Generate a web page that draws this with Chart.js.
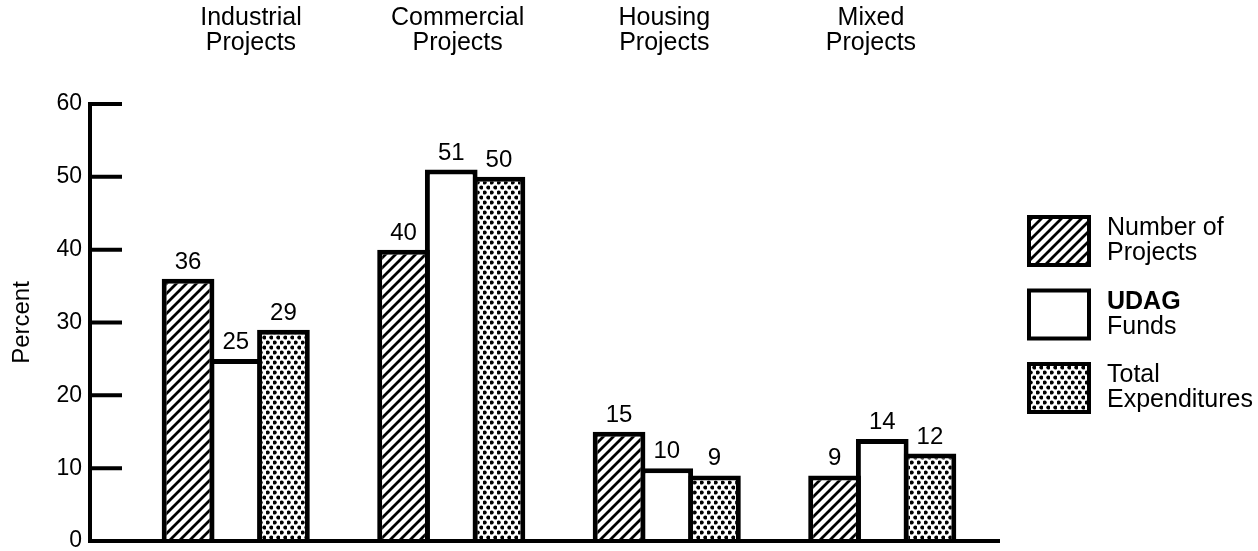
<!DOCTYPE html>
<html>
<head>
<meta charset="utf-8">
<script src="https://cdn.jsdelivr.net/npm/chart.js@4.4.1/dist/chart.umd.min.js"></script>
<style>
  html, body { margin: 0; padding: 0; background: #ffffff; }
  #wrap { width: 1258px; height: 551px; }
</style>
</head>
<body>
<div id="wrap"><canvas id="c" width="1258" height="551"></canvas></div>
<script>
// ---- data ----
const categories = [['Industrial', 'Projects'], ['Commercial', 'Projects'], ['Housing', 'Projects'], ['Mixed', 'Projects']];
const seriesNames = [['Number of', 'Projects'], ['UDAG', 'Funds'], ['Total', 'Expenditures']];
const numberOfProjects = [36, 40, 15, 9];
const udagFunds = [25, 51, 10, 14];
const totalExpenditures = [29, 50, 9, 12];
const yTicks = [0, 10, 20, 30, 40, 50, 60];

// ---- styles ----
const FONT = '"Liberation Sans", Arial, Helvetica, sans-serif';

function hatchPattern() {
  const s = 10;
  const c = document.createElement('canvas');
  c.width = s; c.height = s;
  const g = c.getContext('2d');
  g.fillStyle = '#fff'; g.fillRect(0, 0, s, s);
  g.strokeStyle = '#000'; g.lineWidth = 2.8; g.lineCap = 'square';
  g.beginPath();
  g.moveTo(0, s); g.lineTo(s, 0);
  g.moveTo(-1, 1); g.lineTo(1, -1);
  g.moveTo(s - 1, s + 1); g.lineTo(s + 1, s - 1);
  g.stroke();
  return document.getElementById('c').getContext('2d').createPattern(c, 'repeat');
}
function dotPattern() {
  const w = 7, h = 10;
  const c = document.createElement('canvas');
  c.width = w; c.height = h;
  const g = c.getContext('2d');
  g.fillStyle = '#fff'; g.fillRect(0, 0, w, h);
  g.fillStyle = '#000';
  [[1.75, 2.5], [5.25, 7.5]].forEach(([x, y]) => { g.beginPath(); g.arc(x, y, 2.0, 0, Math.PI * 2); g.fill(); });
  return document.getElementById('c').getContext('2d').createPattern(c, 'repeat');
}
const fills = [hatchPattern(), '#ffffff', dotPattern()];

// ---- plugins ----
const axisLines = {
  id: 'axisLines',
  afterDatasetsDraw(chart, args, o) {
    const y = chart.scales.y, ctx = chart.ctx;
    const base = y.getPixelForValue(yTicks[0]);
    const top = y.getPixelForValue(yTicks[yTicks.length - 1]);
    ctx.save();
    ctx.strokeStyle = '#000';
    ctx.lineWidth = o.width;
    ctx.lineCap = 'butt';
    ctx.beginPath();
    ctx.moveTo(o.axisX, top - 2); ctx.lineTo(o.axisX, base);
    yTicks.slice(1).forEach(v => { const p = y.getPixelForValue(v); ctx.moveTo(o.axisX, p); ctx.lineTo(o.tickEnd, p); });
    ctx.moveTo(o.axisX - 2, base); ctx.lineTo(o.baseEnd, base);
    ctx.stroke();
    ctx.restore();
  }
};
const valueLabels = {
  id: 'valueLabels',
  afterDatasetsDraw(chart, args, o) {
    const ctx = chart.ctx;
    ctx.save();
    ctx.font = o.size + 'px ' + FONT;
    ctx.fillStyle = '#000'; ctx.textAlign = 'center'; ctx.textBaseline = 'alphabetic';
    chart.data.datasets.forEach((ds, di) => {
      chart.getDatasetMeta(di).data.forEach((bar, i) => {
        ctx.fillText(String(ds.data[i]), bar.x, bar.y - o.gap);
      });
    });
    ctx.restore();
  }
};
const sideLegend = {
  id: 'sideLegend',
  afterDraw(chart, args, o) {
    const ctx = chart.ctx;
    ctx.save();
    chart.data.datasets.forEach((ds, i) => {
      const top = o.top + i * o.step;
      ctx.fillStyle = ds.backgroundColor;
      ctx.fillRect(o.x, top, o.boxW, o.boxH);
      ctx.strokeStyle = '#000'; ctx.lineWidth = o.border;
      ctx.strokeRect(o.x + o.border / 2, top + o.border / 2, o.boxW - o.border, o.boxH - o.border);
      const cy = top + o.boxH / 2;
      ctx.fillStyle = '#000'; ctx.textAlign = 'left'; ctx.textBaseline = 'middle';
      ds.label.forEach((line, li) => {
        const bold = o.boldFirst[i] && li === 0;
        ctx.font = (bold ? 'bold ' : '') + o.size + 'px ' + FONT;
        ctx.fillText(line, o.textX, cy + (li - (ds.label.length - 1) / 2) * o.lineH);
      });
    });
    ctx.restore();
  }
};

// ---- chart ----
const barStyle = { borderColor: '#000', borderWidth: 5, borderSkipped: 'start', barPercentage: 1.105, categoryPercentage: 0.664 };
new Chart(document.getElementById('c'), {
  type: 'bar',
  data: {
    labels: categories.map(c => c.join(' ')),
    datasets: [
      Object.assign({ label: seriesNames[0], data: numberOfProjects, backgroundColor: fills[0] }, barStyle),
      Object.assign({ label: seriesNames[1], data: udagFunds, backgroundColor: fills[1] }, barStyle),
      Object.assign({ label: seriesNames[2], data: totalExpenditures, backgroundColor: fills[2] }, barStyle)
    ]
  },
  options: {
    responsive: false,
    animation: false,
    layout: { padding: { left: 0, right: 268, top: 0, bottom: 10 } },
    plugins: {
      legend: { display: false },
      tooltip: { enabled: false },
      axisLines: { axisX: 90, tickEnd: 122, baseEnd: 1000, width: 4 },
      valueLabels: { size: 24, gap: 10 },
      sideLegend: { x: 1027, top: 215, step: 73.5, boxW: 64, boxH: 52, border: 4, textX: 1107, lineH: 25, size: 25, boldFirst: [false, true, false] }
    },
    scales: {
      x: { type: 'category', display: false, offset: true },
      xTop: {
        type: 'linear', position: 'top', min: -0.595, max: 3.576, offset: false,
        grid: { display: false, drawTicks: false }, border: { display: false },
        afterBuildTicks: s => { s.ticks = categories.map((_, i) => ({ value: i })); },
        afterFit: s => { s.height = 104; s.paddingLeft = 0; s.paddingRight = 0; },
        ticks: { callback: v => categories[v], color: '#000', padding: 48, maxRotation: 0, autoSkip: false,
                 font: { family: FONT, size: 25, lineHeight: 1.0 } }
      },
      y: {
        type: 'linear', min: 0, max: 60,
        grid: { display: false, drawTicks: false }, border: { display: false },
        afterBuildTicks: s => { s.ticks = yTicks.map(v => ({ value: v })); },
        afterFit: s => { s.width = 128; s.paddingTop = 0; s.paddingBottom = 0; },
        ticks: { color: '#000', padding: 46, font: { family: FONT, size: 23 } },
        title: { display: true, text: 'Percent', color: '#000', padding: { top: 8, bottom: 0 }, font: { family: FONT, size: 24 } }
      }
    }
  },
  plugins: [axisLines, valueLabels, sideLegend]
});
</script>
</body>
</html>
